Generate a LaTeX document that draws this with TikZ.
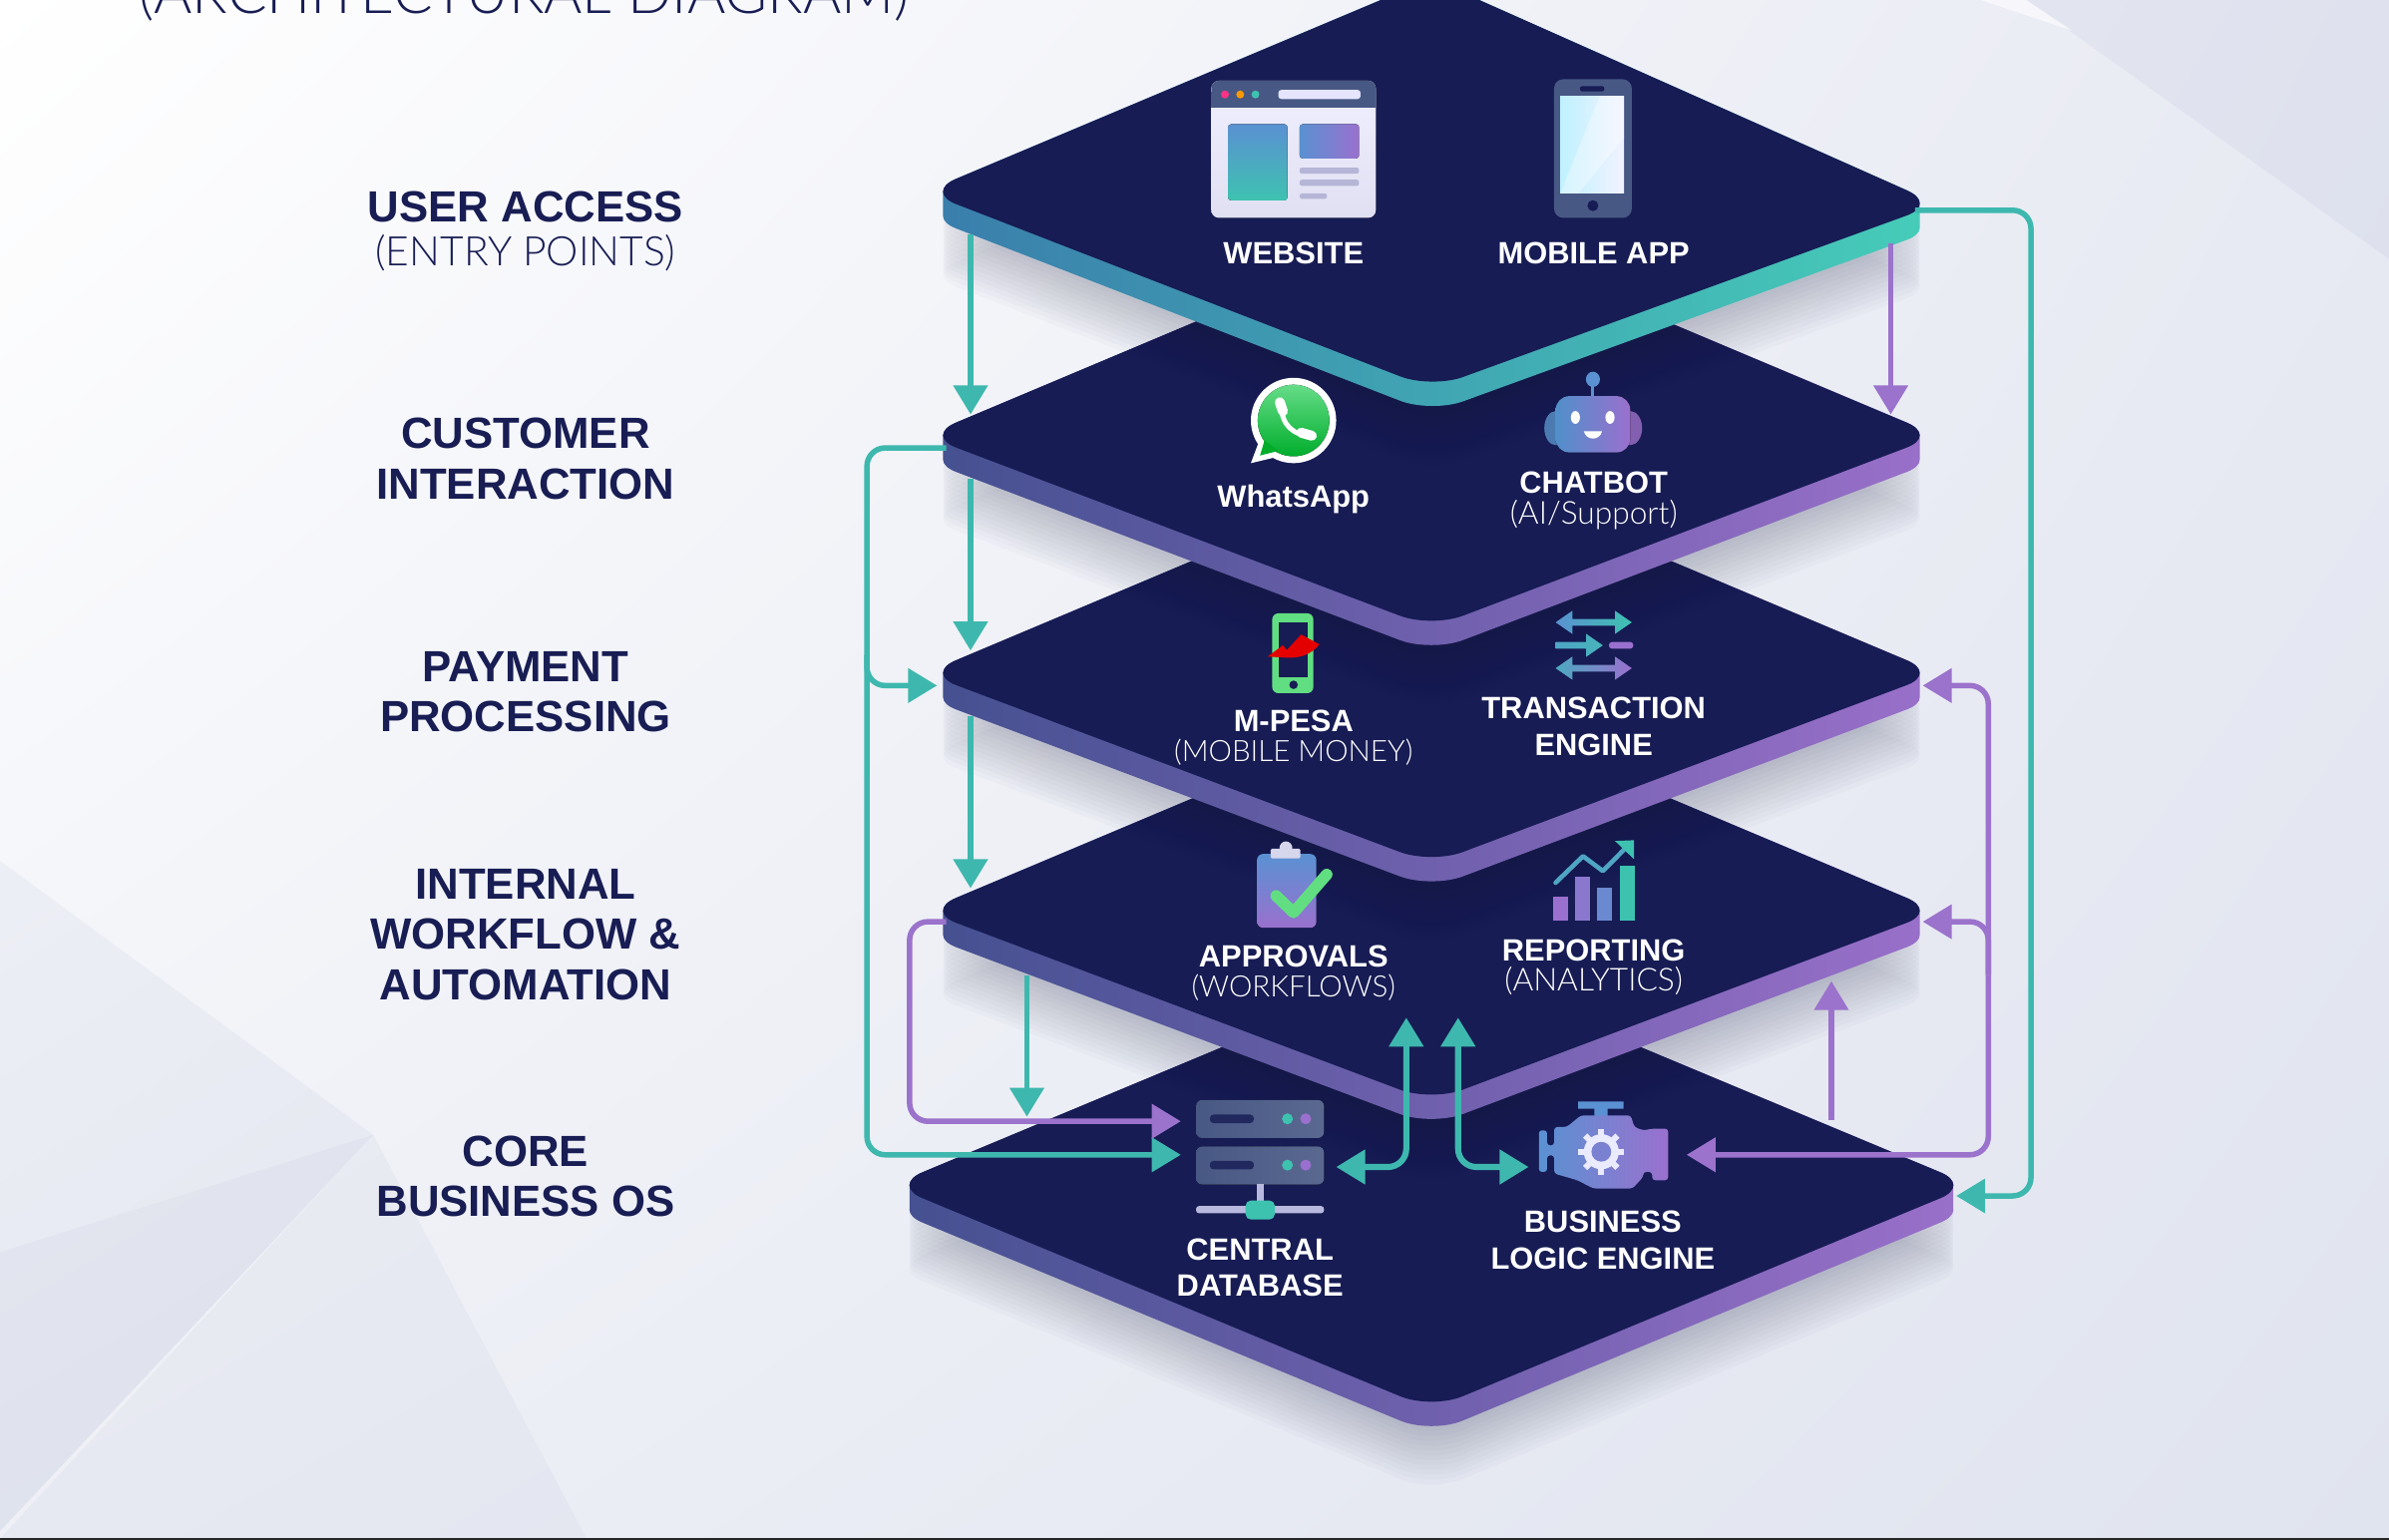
\documentclass[tikz,border=0pt]{standalone}
\usepackage{xcolor}
\usepackage{fontspec}
\usepackage{tikz}
\usetikzlibrary{arrows.meta,shadings}
\setmainfont{Liberation Sans}
\newfontfamily\lightfont{Lato}[UprightFont=* Light]

% Define colors
\definecolor{navy}{RGB}{23,28,84}
\definecolor{inktext}{RGB}{24,29,84}
\definecolor{tealline}{RGB}{62,184,174}
\definecolor{purpleline}{RGB}{155,114,204}
\definecolor{slateicon}{RGB}{72,88,132}
\definecolor{blueicon}{RGB}{90,145,210}
\definecolor{purpleicon}{RGB}{154,112,206}
\definecolor{tealicon}{RGB}{62,194,176}
\definecolor{greenicon}{RGB}{98,222,130}
\definecolor{bgul}{RGB}{255,255,255}
\definecolor{bgur}{RGB}{232,234,243}
\definecolor{bgll}{RGB}{238,240,246}
\definecolor{bglr}{RGB}{224,228,239}
\definecolor{facet}{RGB}{150,160,195}
\definecolor{shadowcol}{RGB}{20,24,62}
\definecolor{sideleft}{RGB}{68,80,144}
\definecolor{sidemid}{RGB}{94,90,162}
\definecolor{sideright}{RGB}{154,112,202}
\definecolor{topleft}{RGB}{58,125,172}
\definecolor{topmid}{RGB}{70,150,172}
\definecolor{topright}{RGB}{70,205,185}

\tikzset{
  sidelabel/.style={font=\fontsize{8.15}{9.4}\selectfont\bfseries, text=inktext, align=center, inner sep=0pt},
  sidenote/.style={font=\fontsize{7.6}{9}\selectfont\lightfont, text=inktext, align=center, inner sep=0pt},
  iconlabel/.style={font=\fontsize{5.75}{6.2}\selectfont\bfseries, text=white, align=center, inner sep=0pt},
  iconnote/.style={font=\fontsize{5.9}{6.2}\selectfont\lightfont, text=white, align=center, inner sep=0pt},
  smallnote/.style={iconnote, font=\fontsize{5.5}{6.2}\selectfont\lightfont},
  tealarrow/.style={draw=tealline, line width=0.36mm, rounded corners=1.2mm, -{Triangle[length=1.9mm,width=2.2mm]}},
  purplearrow/.style={draw=purpleline, line width=0.36mm, rounded corners=1.2mm, -{Triangle[length=1.9mm,width=2.2mm]}},
}

% one plate: cy, half width, upper half, lower half, side colours, drop of the right corner
\newcommand{\platepath}[6]{({939.5-#3},{#2+#1}) -- (939.5,{#2+#1+#5}) -- ({939.5+#3},{#2+#1+#6}) -- (939.5,{#2+#1-#4}) -- cycle}
\newcommand{\plate}[8]{
  \foreach \k in {1,...,12}
    \fill[shadowcol, opacity=0.02, rounded corners=2.2mm] \platepath{16+\k*3.2}{#1}{#2}{#3}{#4}{#8};
  \shade[left color=#5, middle color=#6, right color=#7, rounded corners=2.2mm]
    \platepath{16}{#1}{#2}{#3}{#4}{#8} \platepath{0}{#1}{#2}{#3}{#4}{#8}
    [sharp corners] ({939.5-#2+12},{#1}) -- ({939.5-#2+12},{#1+16}) -- ({939.5+#2-12},{#1+16+#8}) -- ({939.5+#2-12},{#1+#8}) -- cycle;
  \fill[navy, rounded corners=2.2mm] \platepath{0}{#1}{#2}{#3}{#4}{#8};
}
% double arrow of the transaction icon: y, left colour, right colour
\newcommand{\twoway}[3]{
  \shade[left color=#2, right color=#3] (1021,#1) -- (1032,{#1-7.6}) -- (1032,{#1-2.2}) -- (1060,{#1-2.2}) -- (1060,{#1-7.6})
    -- (1071,#1) -- (1060,{#1+7.6}) -- (1060,{#1+2.2}) -- (1032,{#1+2.2}) -- (1032,{#1+7.6}) -- cycle;
}

\begin{document}
\begin{tikzpicture}[x=0.1mm, y=-0.1mm]
    \useasboundingbox (0,0) rectangle (1568,1010.84);

    % Background and its facets
    \shade[upper left=bgul, upper right=bgur, lower left=bgll, lower right=bglr] (0,0) rectangle (1568,1010.84);
    \fill[facet, opacity=0.09] (0,565) -- (245,745) -- (0,822) -- cycle;
    \fill[facet, opacity=0.16] (245,745) -- (0,1005) -- (0,822) -- cycle;
    \fill[facet, opacity=0.08] (245,745) -- (385,1010) -- (0,1010) -- cycle;
    \fill[facet, opacity=0.10] (1330,0) -- (1568,0) -- (1568,170) -- cycle;
    \fill[white, opacity=0.6] (1300,0) -- (1330,0) -- (1360,20) -- cycle;
    \fill[black!85] (0,1009.4) rectangle (1568,1010.84);

    % Plates, lowest first
    \plate{778}{354.5}{148}{147}{sideleft}{sidemid}{sideright}{0}
    \plate{598}{332.5}{140}{125}{sideleft}{sidemid}{sideright}{0}
    \plate{442}{332.5}{140}{125}{sideleft}{sidemid}{sideright}{0}
    \plate{286}{332.5}{140}{126}{sideleft}{sidemid}{sideright}{0}
    \plate{126}{332.5}{140}{129}{topleft}{topmid}{topright}{8}

    % Side labels
    \node[font=\fontsize{10.9}{13}\selectfont\lightfont, text=inktext, anchor=base, inner sep=0pt] (title) at (344,9) {(ARCHITECTURAL DIAGRAM)};
    \node[sidelabel] (accesslabel) at (345,135.5) {USER ACCESS};
    \node[sidenote] (accessnote) at (345,166) {(ENTRY POINTS)};
    \node[sidelabel] (customerlabel) at (345,301) {CUSTOMER\\INTERACTION};
    \node[sidelabel] (paymentlabel) at (345,454) {PAYMENT\\PROCESSING};
    \node[sidelabel] (internallabel) at (345,613.5) {INTERNAL\\WORKFLOW \&\\AUTOMATION};
    \node[sidelabel] (corelabel) at (345,772) {CORE\\BUSINESS OS};

    % Website icon
    \fill[top color=white!94!blue, bottom color=blue!8!white!90!gray, rounded corners=0.5mm] (795,53) rectangle (903,143);
    \fill[slateicon, rounded corners=0.5mm] (795,53) rectangle (903,66);
    \fill[slateicon] (795,60) rectangle (903,71);
    \fill[red!60!magenta!80!white] (804,62) circle (2.6);
    \fill[orange!80!yellow] (814,62) circle (2.6);
    \fill[tealicon] (824,62) circle (2.6);
    \fill[white!90!blue, rounded corners=0.2mm] (839,59) rectangle (893,65);
    \fill[top color=blueicon, bottom color=tealicon, rounded corners=0.2mm] (806,81.5) rectangle (845,131.5);
    \fill[left color=blueicon, right color=purpleicon, rounded corners=0.2mm] (853,81.5) rectangle (892,104);
    \fill[blue!30!gray!45!white, rounded corners=0.15mm] (853,110) rectangle (892,114);
    \fill[blue!30!gray!45!white, rounded corners=0.15mm] (853,118) rectangle (892,122);
    \fill[blue!30!gray!45!white, rounded corners=0.15mm] (853,127) rectangle (871,130.5);
    \node[iconlabel] (website) at (849,166) {WEBSITE};

    % Mobile app icon
    \fill[slateicon, rounded corners=0.6mm] (1020,52) rectangle (1071,143);
    \fill[left color=blue!22!cyan!25!white, right color=blue!5!white] (1024,63) rectangle (1066,127);
    \fill[white, opacity=0.35] (1050,63) -- (1066,63) -- (1066,90) -- (1036,127) -- (1024,127) -- cycle;
    \fill[navy, rounded corners=0.15mm] (1037,56.5) rectangle (1053,60);
    \fill[navy] (1045.5,135) circle (3.6);
    \node[iconlabel] (mobileapp) at (1046,166) {MOBILE APP};

    % WhatsApp icon
    \fill[white] (849,276) circle (28);
    \fill[white] (827,288) -- (821,304) -- (842,299) -- cycle;
    \fill[top color=green!55!teal!60!white, bottom color=green!60!teal!85!black] (849,276) circle (23.5);
    \fill[green!60!teal!85!black] (830,289) -- (827,299) -- (839,296) -- cycle;
    \draw[white, line width=0.32mm] (841,266) .. controls (841,279) and (849,286) .. (861,286);
    \draw[white, line width=0.65mm, line cap=round] (840,264) -- (842,270);
    \draw[white, line width=0.65mm, line cap=round] (854,284) -- (861,286);
    \node[iconlabel] (whatsapp) at (849,328) {WhatsApp};

    % Chatbot icon
    \draw[blueicon, line width=0.2mm] (1045.5,250) -- (1045.5,262);
    \fill[blueicon] (1045.5,249) ellipse (4.6 and 5);
    \fill[blueicon!85!black] (1021,281) ellipse (7.4 and 11.2);
    \fill[purpleicon!85!black] (1070,281) ellipse (7.8 and 11.2);
    \fill[left color=blueicon!90!teal, right color=purpleicon, rounded corners=0.9mm] (1021,260) rectangle (1070,297);
    \fill[white] (1034,274) ellipse (3 and 4.2);
    \fill[white] (1056.7,274) ellipse (3 and 4.2);
    \fill[white] (1039.5,283) .. controls (1041,289.5) and (1050,289.5) .. (1051.5,283) -- cycle;
    \node[iconlabel] (chatbot) at (1046,317) {CHATBOT};
    \node[iconnote] (chatnote) at (1046,338) {(AI/Support)};

    % M-PESA icon
    \fill[greenicon, rounded corners=0.4mm] (835,402.6) rectangle (862,455);
    \fill[navy] (839,408.6) rectangle (858,444.7);
    \fill[navy] (849,449.5) circle (2.8);
    \fill[red!90!black] (832,431) -- (842,423.5) -- (844.6,426.7) -- (854,416.5) -- (866,423) .. controls (860,430) and (853,432) .. (845,431.7) -- cycle;
    \node[iconlabel] (mpesa) at (849,473) {M-PESA};
    \node[smallnote] (mpesanote) at (849,494) {(MOBILE MONEY)};

    % Transaction engine icon
    \twoway{408.5}{blueicon}{tealicon}
    \shade[left color=blueicon!60!tealicon, right color=tealicon!70!blueicon] (1021,421.4) -- (1041,421.4) -- (1041,416) -- (1052,423.6) -- (1041,431.2) -- (1041,425.8) -- (1021,425.8) -- cycle;
    \fill[purpleicon, rounded corners=0.2mm] (1056,421.4) rectangle (1072,425.8);
    \twoway{438.6}{blueicon!50!tealicon}{purpleicon}
    \node[iconlabel] (transaction) at (1046,477) {TRANSACTION\\[0.6pt]ENGINE};

    % Approvals icon
    \fill[top color=blueicon, bottom color=purpleicon, rounded corners=0.4mm] (825,560.5) rectangle (864,609);
    \fill[blue!10!white!85!gray] (844,556.5) circle (4.2);
    \fill[blue!10!white!85!gray, rounded corners=0.1mm] (834,557) rectangle (853.5,563.5);
    \draw[greenicon, line width=0.75mm, line cap=round, line join=round] (837.6,588) -- (849,599) -- (870.8,574);
    \node[iconlabel] (approvals) at (849,628) {APPROVALS};
    \node[smallnote] (approvalsnote) at (849,648) {(WORKFLOWS)};

    % Reporting icon
    \fill[purpleicon] (1019.6,588.7) rectangle (1029,604);
    \fill[purpleicon!75!blueicon] (1034,575.5) rectangle (1043.6,604);
    \fill[blueicon!75!purpleicon] (1048,582.6) rectangle (1058,604);
    \fill[tealicon] (1063,568) rectangle (1073,604);
    \draw[blueicon!60!tealicon, line width=0.3mm, line cap=round, line join=round] (1021,579.4) -- (1039,562) -- (1052,571.7) -- (1069,554.6);
    \fill[tealicon] (1060,552) -- (1072.5,551.5) -- (1072.5,564) -- cycle;
    \node[iconlabel] (reporting) at (1046,624) {REPORTING};
    \node[iconnote] (reportingnote) at (1046,644) {(ANALYTICS)};

    % Central database icon
    \foreach \ytop/\ydot in {722/734.4, 752.5/764.8} {
      \fill[left color=slateicon, right color=slateicon!90!white, rounded corners=0.4mm] (785,\ytop) rectangle (869,\ytop+25);
      \fill[navy!80!slateicon, rounded corners=0.25mm] (794,\ydot-2.8) rectangle (823,\ydot+2.8);
      \fill[tealicon] (845,\ydot) circle (3.6);
      \fill[purpleicon] (857,\ydot) circle (3.6);
    }
    \fill[blue!20!white!75!gray] (824.7,777) rectangle (829.3,790);
    \fill[blue!20!white!75!gray, rounded corners=0.2mm] (785,791.6) rectangle (869,796.4);
    \fill[tealicon, rounded corners=0.35mm] (817.5,788) rectangle (836.7,800.5);
    \node[iconlabel] (database) at (827,832) {CENTRAL\\[0.6pt]DATABASE};

    % Business logic engine icon
    \begin{scope}[shift={(759.5,713.6)}, x=0.02338mm, y=-0.02182mm]
      \fill[blueicon] (1182,43) -- (1310,43) -- (1310,65) -- (1265,65) -- (1265,90) -- (1228,90) -- (1228,65) -- (1182,65) -- cycle;
      \shade[left color=blueicon, right color=purpleicon, rounded corners=0.2mm] (1072,130) -- (1095,130) -- (1095,175) -- (1115,175) -- (1115,120) -- (1150,120)
        -- (1190,85) -- (1330,85) -- (1340,120) -- (1365,130) -- (1390,125) -- (1435,125) -- (1435,280) -- (1390,280) -- (1390,255)
        -- (1365,255) -- (1365,270) -- (1335,305) -- (1225,305) -- (1180,280) -- (1115,260) -- (1115,205) -- (1095,205) -- (1095,255) -- (1072,255) -- cycle;
    \end{scope}
    \fill[white!92!blue] (1051,756) circle (11.5);
    \foreach \a in {0,45,...,315}
      \draw[white!92!blue, line width=0.4mm] (1051,756) ++(\a:8) -- ++(\a:7);
    \fill[blueicon!50!purpleicon] (1051,756) circle (6.5);
    \node[iconlabel] (logicengine) at (1052,814) {BUSINESS\\[0.6pt]LOGIC ENGINE};

    % Ports on the plates and icons
    \coordinate (accessout) at (637,154);
    \coordinate (chatin) at (637,272);
    \coordinate (accessoutb) at (1241,160);
    \coordinate (chatinb) at (1241,272);
    \coordinate (accessright) at (1257,138);
    \coordinate (rightbus) at (1333,460);
    \coordinate (corein) at (1284,785);
    \coordinate (chatleft) at (621,294);
    \coordinate (leftbus) at (569,430);
    \coordinate (payin) at (615,450);
    \coordinate (dbinb) at (775,758);
    \coordinate (chatout) at (637,314);
    \coordinate (payinb) at (637,427);
    \coordinate (payout) at (637,470);
    \coordinate (flowin) at (637,583);
    \coordinate (flowleft) at (621,605);
    \coordinate (flowbus) at (597,670);
    \coordinate (dbina) at (775,736);
    \coordinate (flowout) at (674,640);
    \coordinate (corein2) at (674,733);
    \coordinate (dbright) at (877,766);
    \coordinate (flowup) at (923,668);
    \coordinate (engleft) at (1003.3,766);
    \coordinate (flowupb) at (957,668);
    \coordinate (coreup) at (1202,735);
    \coordinate (flowinr) at (1202,644);
    \coordinate (payright) at (1262,450);
    \coordinate (flowright) at (1262,605);
    \coordinate (engright) at (1107,758);
    \coordinate (purplebus) at (1305,640);

    % Connectors
    \draw[tealarrow] (accessout) -- (chatin);
    \draw[purplearrow] (accessoutb) -- (chatinb);
    \draw[tealarrow] (accessright) -| (rightbus) |- (corein);
    \draw[tealarrow] (chatleft) -| (leftbus) |- (dbinb);
    \draw[tealarrow] (leftbus) |- (payin);
    \draw[tealarrow] (chatout) -- (payinb);
    \draw[tealarrow] (payout) -- (flowin);
    \draw[purplearrow] (flowleft) -| (flowbus) |- (dbina);
    \draw[tealarrow] (flowout) -- (corein2);
    \draw[tealarrow, line width=0.4mm, {Triangle[length=1.9mm,width=2.2mm]}-{Triangle[length=1.9mm,width=2.2mm]}] (dbright) -| (flowup);
    \draw[tealarrow, line width=0.4mm, {Triangle[length=1.9mm,width=2.2mm]}-{Triangle[length=1.9mm,width=2.2mm]}] (engleft) -| (flowupb);
    \draw[purplearrow] (coreup) -- (flowinr);
    \draw[purplearrow] (purplebus) |- (payright);
    \draw[purplearrow] (purplebus) |- (flowright);
    \draw[purplearrow] (purplebus) |- (engright);
\end{tikzpicture}
\end{document}
